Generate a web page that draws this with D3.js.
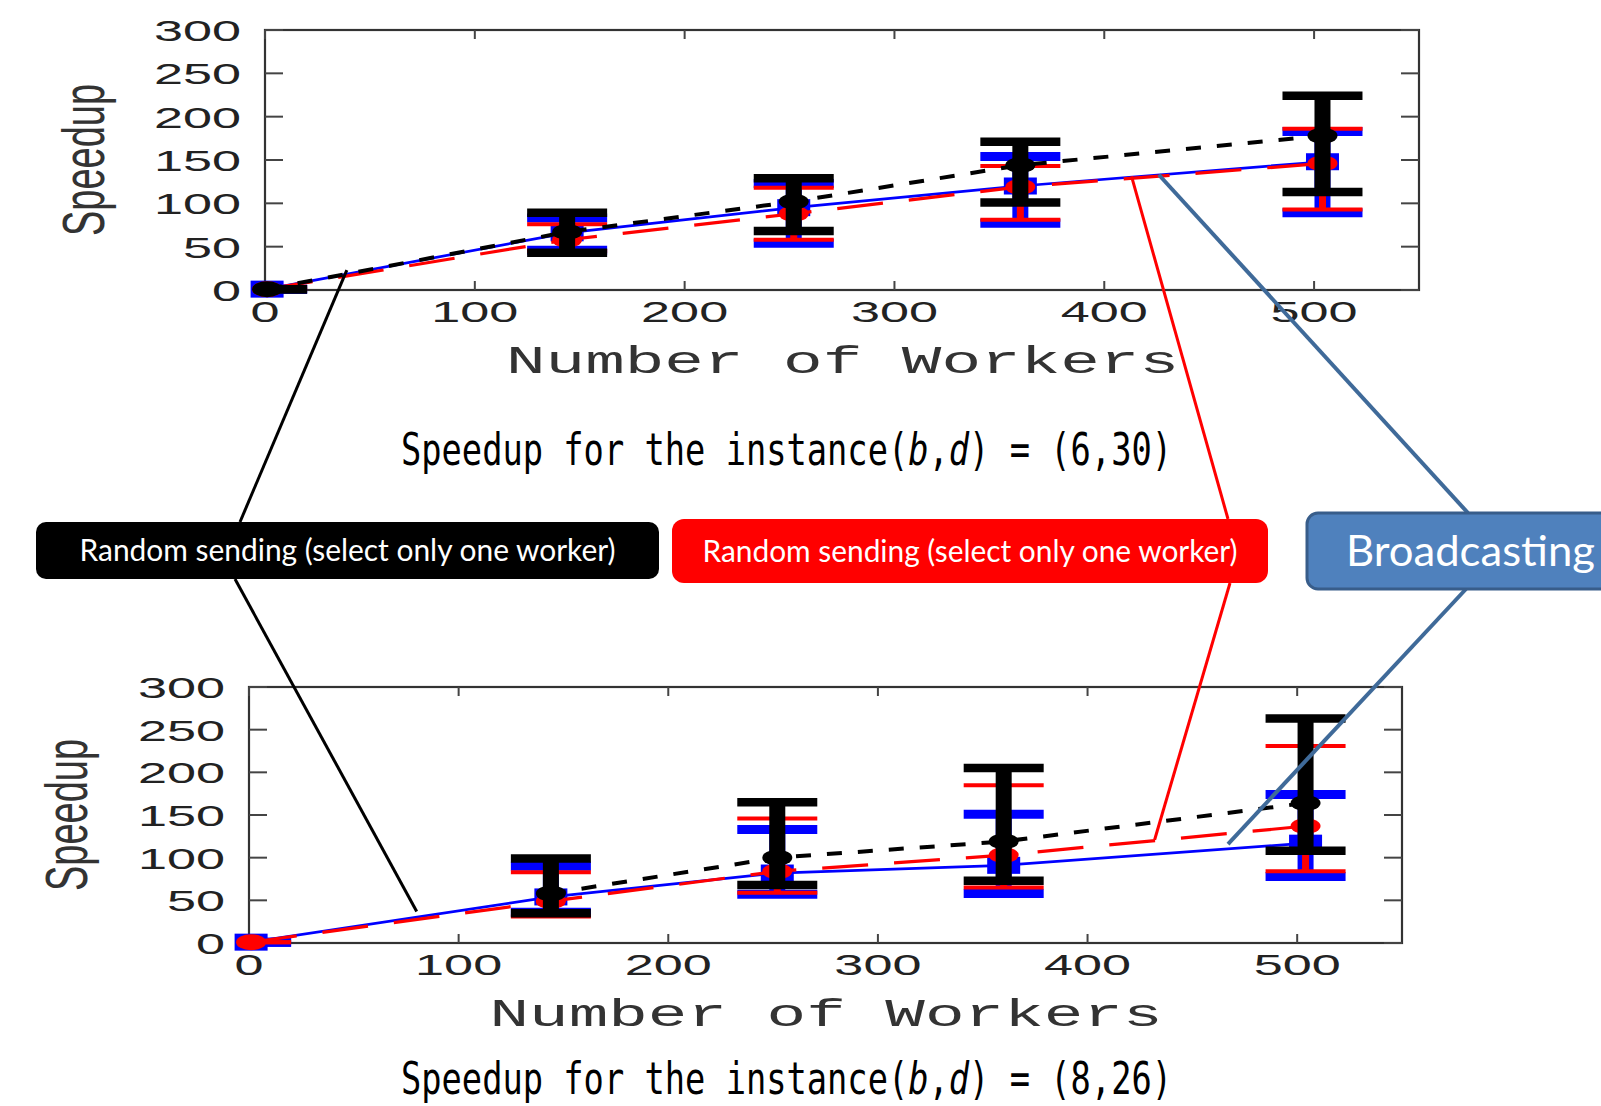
<!DOCTYPE html>
<html>
<head>
<meta charset="utf-8">
<script src="https://cdn.jsdelivr.net/npm/d3@7"></script>
<style>
  body { margin: 0; background: #fff; }
  svg { display: block; }
</style>
</head>
<body>
<svg id="fig" width="1601" height="1106"></svg>
<script>
// worker counts (x values) shared by both instances
const workers = [1, 144, 252, 360, 504];
const xTicks = [0, 100, 200, 300, 400, 500];
const yTicks = [0, 50, 100, 150, 200, 250, 300];

// instance (b,d) = (6,30)
const topBlackMean = [1, 67, 102, 144, 178];
const topBlackLow  = [1, 43, 68, 101, 113];
const topBlackHigh = [1, 89, 129, 171, 224];
const topRedMean   = [1, 58, 88, 119, 146];
const topRedLow    = [1, 45, 58, 81, 93];
const topRedHigh   = [1, 76, 118, 143, 186];
const topBlueMean  = [1, 66, 95, 120, 148];
const topBlueLow   = [1, 46, 54, 77, 89];
const topBlueHigh  = [1, 83, 123, 154, 183];

// instance (b,d) = (8,26)  (black series has no 1-worker run)
const botBlackMean = [null, 58, 100, 119, 164];
const botBlackLow  = [null, 35, 68, 73, 108];
const botBlackHigh = [null, 99, 165, 205, 263];
const botRedMean   = [1, 49, 84, 103, 137];
const botRedLow    = [1, 31, 59, 65, 84];
const botRedHigh   = [1, 83, 146, 185, 231];
const botBlueMean  = [1, 54, 82, 91, 117];
const botBlueLow   = [1, 36, 57, 58, 78];
const botBlueHigh  = [1, 90, 133, 151, 174];

// where the callout lines touch each plot (data coordinates)
const topPointers = { black: [39, 23], red: [413, 131], blue: [426, 133] };
const botPointers = { black: [80, 37], red: [432, 121], blue: [467, 116] };

const captions = ['(6,30)', '(8,26)'];
const boxLabels = ['Random sending (select only one worker)', 'Random sending (select only one worker)', 'Broadcasting'];

const svg = d3.select('#fig');
const STRETCH = 1.8;   // the gnuplot figure is pasted stretched sideways

function stext(g, x, y, str, anchor, sx, size, fill, family) {
  return g.append('text')
    .attr('transform', `translate(${x},${y}) scale(${sx},1)`)
    .attr('text-anchor', anchor)
    .style('font-family', family)
    .style('font-size', size + 'px')
    .attr('fill', fill)
    .text(str);
}

function plotPanel(p, series, id, caption) {
  const x = d3.scaleLinear().domain([0, 550]).range([p.left, p.right]);
  const y = d3.scaleLinear().domain([0, 300]).range([p.bottom, p.top]);
  const g = svg.append('g');

  svg.append('clipPath').attr('id', 'clip-' + id)
    .append('rect')
    .attr('x', p.left).attr('y', p.top - 30)
    .attr('width', p.right - p.left).attr('height', p.bottom - p.top + 60);

  // frame + ticks
  g.append('rect')
    .attr('x', p.left).attr('y', p.top)
    .attr('width', p.right - p.left).attr('height', p.bottom - p.top)
    .attr('fill', 'none').attr('stroke', '#333').attr('stroke-width', 2.2);

  const ticks = g.append('g').attr('stroke', '#444').attr('stroke-width', 2);
  xTicks.forEach(t => {
    ticks.append('line').attr('x1', x(t)).attr('x2', x(t)).attr('y1', p.bottom).attr('y2', p.bottom - 9);
    ticks.append('line').attr('x1', x(t)).attr('x2', x(t)).attr('y1', p.top).attr('y2', p.top + 9);
    stext(g, x(t), p.bottom + 32, t, 'middle', STRETCH, 29, '#222', 'Liberation Sans');
  });
  yTicks.forEach(t => {
    ticks.append('line').attr('x1', p.left).attr('x2', p.left + 18).attr('y1', y(t)).attr('y2', y(t));
    ticks.append('line').attr('x1', p.right).attr('x2', p.right - 18).attr('y1', y(t)).attr('y2', y(t));
    stext(g, p.left - 24, y(t) + 11, t, 'end', STRETCH, 29, '#222', 'Liberation Sans');
  });

  // axis titles
  g.append('text')
    .attr('transform', `translate(${p.labelX},${(p.top + p.bottom) / 2}) scale(1.55,1) rotate(-90)`)
    .attr('text-anchor', 'middle')
    .attr('dy', '0.35em')
    .style('font-family', 'Liberation Sans')
    .style('font-size', '38px')
    .attr('fill', '#333')
    .text('Speedup');

  const cx = (p.left + p.right) / 2;
  g.append('text')
    .attr('x', cx - 336).attr('y', p.bottom + 83)
    .attr('textLength', 673).attr('lengthAdjust', 'spacingAndGlyphs')
    .style('font-family', 'Liberation Mono')
    .style('font-size', '38px')
    .attr('fill', '#333')
    .text('Number of Workers');

  // data: blue, red, then black on top
  series.forEach(s => {
    const pts = workers.map((w, i) => ({ w, m: s.mean[i], lo: s.low[i], hi: s.high[i] }))
      .filter(d => d.m != null);
    const eb = g.append('g').attr('clip-path', `url(#clip-${id})`);
    eb.selectAll('line.v').data(pts).join('line')
      .attr('x1', d => x(d.w)).attr('x2', d => x(d.w))
      .attr('y1', d => y(d.lo)).attr('y2', d => y(d.hi))
      .attr('stroke', s.color).attr('stroke-width', s.barW);
    ['lo', 'hi'].forEach(k => {
      eb.selectAll('line.c' + k).data(pts).join('line')
        .attr('x1', d => x(d.w) - 40).attr('x2', d => x(d.w) + 40)
        .attr('y1', d => y(d[k])).attr('y2', d => y(d[k]))
        .attr('stroke', s.color).attr('stroke-width', s.capW);
    });

    g.append('path')
      .attr('d', d3.line().x(d => x(d.w)).y(d => y(d.m))(pts))
      .attr('fill', 'none')
      .attr('stroke', s.color)
      .attr('stroke-width', s.lineW)
      .attr('stroke-dasharray', s.dash);

    if (s.shape === 'square') {
      g.selectAll(null).data(pts).join('rect')
        .attr('x', d => x(d.w) - 16.5).attr('y', d => y(d.m) - 8.5)
        .attr('width', 33).attr('height', 17)
        .attr('fill', s.color);
    } else {
      g.selectAll(null).data(pts).join('ellipse')
        .attr('cx', d => x(d.w)).attr('cy', d => y(d.m))
        .attr('rx', 15).attr('ry', 8)
        .attr('fill', s.color);
    }
  });

  // caption: narrow monospace, squeezed sideways
  const cap = g.append('text')
    .attr('transform', `translate(401,${p.captionY}) scale(0.766,1)`)
    .style('font-family', 'DejaVu Sans Mono')
    .style('font-size', '44px')
    .attr('fill', '#000');
  cap.append('tspan').text('Speedup for the instance(');
  cap.append('tspan').style('font-style', 'italic').text('b');
  cap.append('tspan').text(',');
  cap.append('tspan').style('font-style', 'italic').text('d');
  cap.append('tspan').text(') = ' + caption);

  return { x, y };
}

function makeSeries(bm, bl, bh, rm, rl, rh, um, ul, uh) {
  return [
    { color: '#0000FF', mean: um, low: ul, high: uh, barW: 16, capW: 9, lineW: 2.7, dash: null, shape: 'square' },
    { color: '#FF0000', mean: rm, low: rl, high: rh, barW: 7, capW: 4, lineW: 3.2, dash: '46,26', shape: 'circle' },
    { color: '#000000', mean: bm, low: bl, high: bh, barW: 16, capW: 8.5, lineW: 4, dash: '15,16', shape: 'circle' }
  ];
}

const topPanel = { left: 265, right: 1419, top: 30, bottom: 290, labelX: 83, captionY: 465 };
const botPanel = { left: 249, right: 1402, top: 687, bottom: 943, labelX: 66, captionY: 1094 };

const sTop = plotPanel(topPanel,
  makeSeries(topBlackMean, topBlackLow, topBlackHigh, topRedMean, topRedLow, topRedHigh, topBlueMean, topBlueLow, topBlueHigh),
  'top', captions[0]);
const sBot = plotPanel(botPanel,
  makeSeries(botBlackMean, botBlackLow, botBlackHigh, botRedMean, botRedLow, botRedHigh, botBlueMean, botBlueLow, botBlueHigh),
  'bot', captions[1]);

// callout boxes and their pointer lines
const boxes = [
  { key: 'black', x: 36, y: 522, w: 623, h: 57, rx: 10, fill: '#000000', stroke: 'none', line: '#000000', lineW: 3,
    topX: 240, botX: 235, label: boxLabels[0], size: 30, tlen: 536, anchor: 'middle' },
  { key: 'red', x: 672, y: 519, w: 596, h: 64, rx: 12, fill: '#FF0000', stroke: 'none', line: '#FF0000', lineW: 3,
    topX: 1228, botX: 1230, label: boxLabels[1], size: 30, tlen: 535, anchor: 'middle' },
  { key: 'blue', x: 1307, y: 513, w: 330, h: 76, rx: 11, fill: '#4F81BD', stroke: '#385D8A', line: '#3F6A99', lineW: 4,
    topX: 1468, botX: 1466, label: boxLabels[2], size: 42, tlen: 249, anchor: 'start' }
];

const callouts = svg.append('g');
boxes.forEach(b => {
  const pt = topPointers[b.key], pb = botPointers[b.key];
  callouts.append('line')
    .attr('x1', sTop.x(pt[0])).attr('y1', sTop.y(pt[1]))
    .attr('x2', b.topX).attr('y2', b.y)
    .attr('stroke', b.line).attr('stroke-width', b.lineW);
  callouts.append('line')
    .attr('x1', b.botX).attr('y1', b.y + b.h)
    .attr('x2', sBot.x(pb[0])).attr('y2', sBot.y(pb[1]))
    .attr('stroke', b.line).attr('stroke-width', b.lineW);
});

const bg = svg.append('g');
boxes.forEach(b => {
  bg.append('rect')
    .attr('x', b.x).attr('y', b.y).attr('width', b.w).attr('height', b.h)
    .attr('rx', b.rx).attr('ry', b.rx)
    .attr('fill', b.fill).attr('stroke', b.stroke).attr('stroke-width', 3);
  const tx = b.anchor === 'middle' ? b.x + b.w / 2 - b.tlen / 2 : b.x + 39;
  bg.append('text')
    .attr('x', tx).attr('y', b.y + b.h / 2 + b.size * 0.36)
    .attr('textLength', b.tlen).attr('lengthAdjust', 'spacingAndGlyphs')
    .style('font-family', 'Lato')
    .style('font-size', b.size + 'px')
    .attr('fill', '#fff')
    .text(b.label);
});
</script>
</body>
</html>
